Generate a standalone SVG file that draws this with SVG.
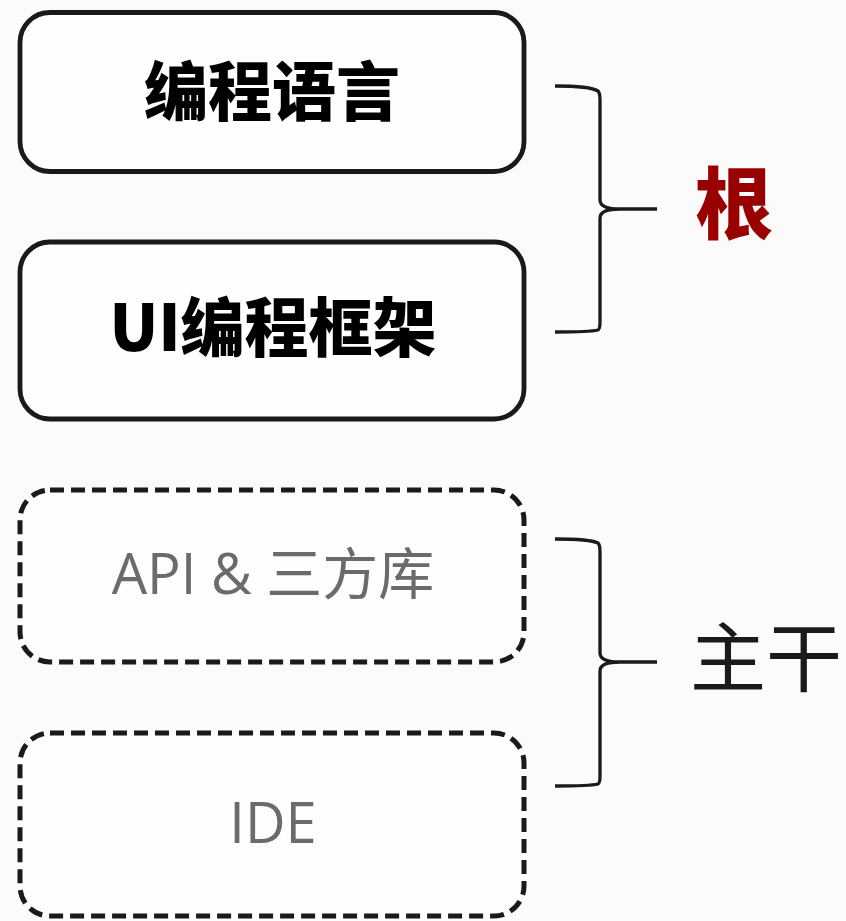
<svg xmlns="http://www.w3.org/2000/svg" width="846" height="921" viewBox="0 0 846 921">
<style>
.box{fill:#fefefe;stroke:#1a1a1a;stroke-width:4.8}
.dash{fill:#fdfdfd;stroke:#1a1a1a;stroke-width:5;stroke-dasharray:14 7}
.bold{font-family:"Noto Sans CJK SC","Noto Sans",sans-serif;font-weight:900;font-size:64px;fill:#000;text-anchor:middle}
.gray{font-family:"Open Sans","Noto Sans CJK SC",sans-serif;font-size:56px;fill:#6b6b6b;text-anchor:middle}
.brace{fill:none;stroke:#1a1a1a;stroke-width:3.3}
</style>
<rect width="846" height="921" fill="#fbfbfb"/>
<g id="n1"><rect class="box" x="20" y="12.5" width="504" height="159" rx="30"/><text class="bold" x="272" y="115">编程语言</text></g>
<g id="n2"><rect class="box" x="20" y="242" width="504" height="177" rx="30"/><text class="bold" x="273" y="351">UI编程框架</text></g>
<g id="n3"><rect class="dash" x="20" y="490" width="504" height="172" rx="30"/><text class="gray" x="273" y="594">API &amp; 三方库</text></g>
<g id="n4"><rect class="dash" x="20" y="733" width="504" height="183" rx="30"/><text class="gray" x="273" y="843">IDE</text></g>
<g id="connectors">
<path class="brace" d="M555,86 Q590,86 598,91 Q600,93 600,100 L600,200 Q600,209 620,209 L657,209 M620,209 Q600,209 600,218 L600,322 Q600,329 598,330 Q590,332 555,332"/>
<path class="brace" d="M555,539 Q590,539 598,543 Q600,545 600,552 L600,653 Q600,662 620,662 L657,662 M620,662 Q600,662 600,671 L600,776 Q600,783 598,784 Q590,786 555,786"/>
</g>
<g id="l1"><text x="734" y="233" style="font-family:'Noto Sans CJK SC',sans-serif;font-weight:900;font-size:78px;fill:#990000;text-anchor:middle">根</text></g>
<g id="l2"><text x="766" y="686" style="font-family:'Noto Sans CJK SC',sans-serif;font-weight:400;font-size:76px;fill:#1a1a1a;text-anchor:middle">主干</text></g>
</svg>
